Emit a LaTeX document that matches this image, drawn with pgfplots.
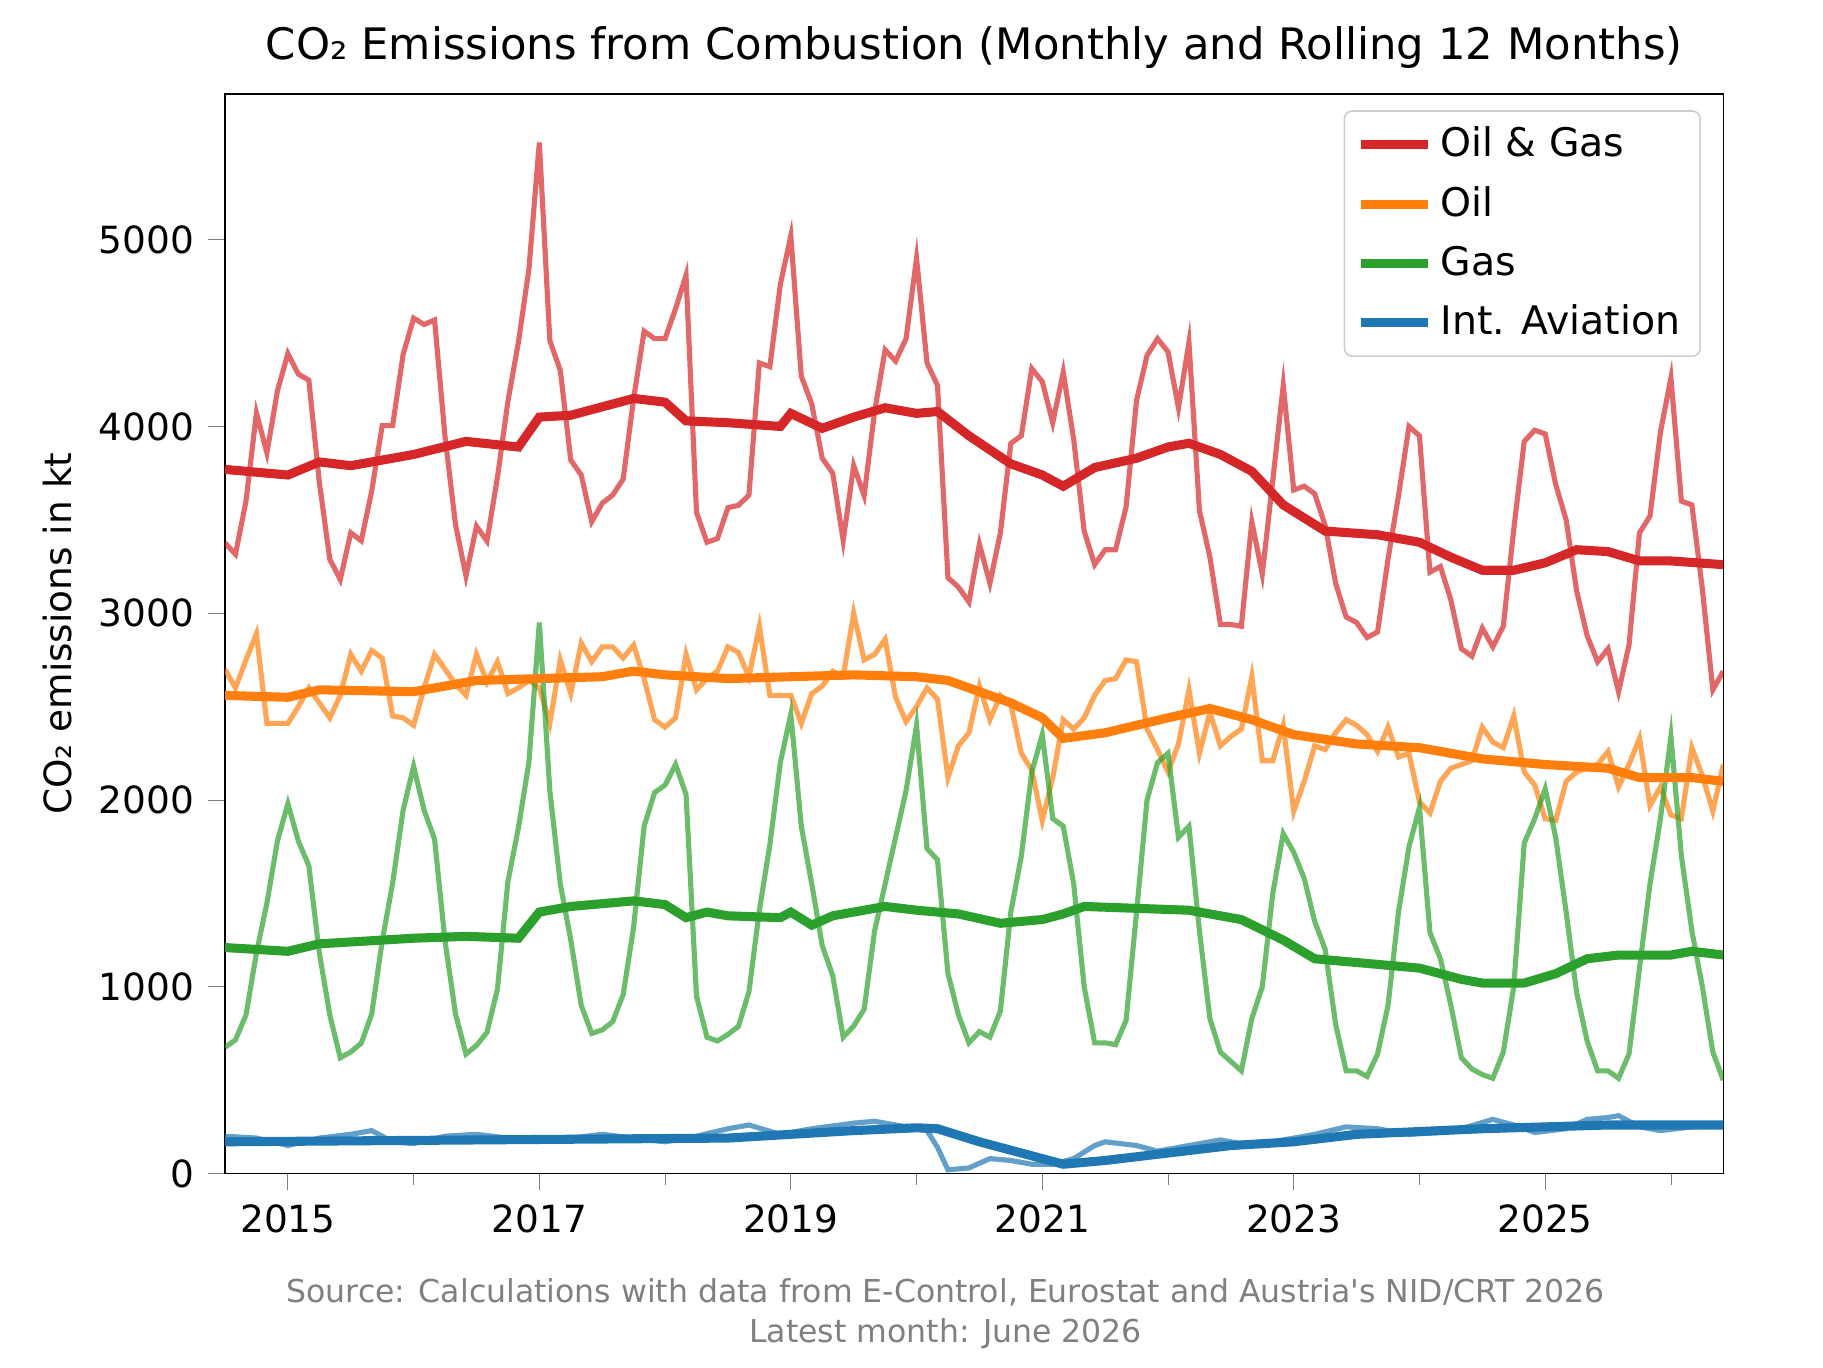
\documentclass[border=0pt]{standalone}
\usepackage{pgfplots}
\pgfplotsset{compat=1.18}
\usepackage{fontspec}
\setmainfont{DejaVu Sans}
\definecolor{tred}{HTML}{D62728}
\definecolor{torange}{HTML}{FF7F0E}
\definecolor{tgreen}{HTML}{2CA02C}
\definecolor{tblue}{HTML}{1F77B4}
\begin{document}
\begin{tikzpicture}
\path (-0.79in,-0.68in) rectangle (5.61in,4.12in);
\begin{axis}[scale only axis, width=5.26in, height=3.79in,
  at={(0,0)}, anchor=south west,
  xmin=0, xmax=143, ymin=0, ymax=5780,
  xtick={6,30,54,78,102,126}, xticklabels={2015,2017,2019,2021,2023,2025},
  minor xtick={18,42,66,90,114,138},
  ytick={0,1000,2000,3000,4000,5000},
  tick align=outside, tick pos=left,
  /pgf/number format/assume math mode=true,
  scaled y ticks=false, yticklabel style={/pgf/number format/1000 sep={}},
  ticklabel style={font=\fontsize{9.5}{11}\selectfont},
  ylabel={CO₂ emissions in kt}, ylabel style={font=\fontsize{9.5}{11}\selectfont},
  title={CO₂ Emissions from Combustion (Monthly and Rolling 12 Months)},
  title style={font=\fontsize{11}{13}\selectfont, yshift=-3pt},
  legend style={at={(0.985,0.985)}, anchor=north east, font=\fontsize{10}{12}\selectfont, draw=black!20, rounded corners=2pt, row sep=2pt},
  legend cell align=left,
  clip=true]
\addplot[tred, opacity=0.7, line width=1.3pt, forget plot] table[x expr=\coordindex, y index=0] {
v
3376
3316
3599
4072
3858
4190
4390
4280
4248
3702
3289
3180
3431
3388
3654
4004
4006
4386
4580
4546
4570
3944
3474
3200
3466
3386
3727
4134
4450
4840
5520
4460
4300
3820
3740
3490
3589
3633
3718
4150
4510
4470
4470
4630
4810
3540
3380
3400
3565
3578
3632
4340
4320
4760
5020
4270
4120
3830
3750
3390
3790
3630
4080
4410
4350
4470
4900
4340
4220
3190
3140
3060
3370
3160
3430
3910
3950
4310
4240
4020
4290
3930
3440
3260
3340
3340
3570
4140
4380
4470
4400
4100
4450
3550
3300
2940
2940
2930
3490
3210
3710
4220
3660
3680
3640
3470
3160
2980
2950
2870
2900
3290
3630
4000
3950
3220
3250
3070
2810
2770
2920
2820
2930
3450
3920
3980
3960
3690
3500
3120
2880
2740
2810
2580
2830
3430
3520
3970
4260
3600
3580
3130
2590
2690
};
\addplot[torange, opacity=0.7, line width=1.3pt, forget plot] table[x expr=\coordindex, y index=0] {
v
2700
2600
2750
2890
2410
2410
2410
2500
2600
2520
2440
2560
2780
2690
2800
2760
2450
2440
2400
2600
2780
2700
2620
2560
2780
2630
2740
2570
2600
2640
2600
2410
2750
2570
2840
2740
2820
2820
2760
2830
2650
2430
2390
2440
2780
2590
2650
2690
2820
2790
2660
2930
2560
2560
2560
2410
2570
2610
2690
2660
3000
2750
2780
2860
2550
2420
2500
2600
2540
2120
2290
2360
2610
2430
2560
2510
2250
2160
1890
2120
2430
2380
2440
2560
2640
2650
2750
2740
2380
2270
2150
2300
2590
2250
2470
2290
2340
2380
2660
2210
2210
2400
1940
2100
2290
2270
2360
2430
2400
2350
2260
2390
2230
2250
1990
1930
2100
2170
2190
2210
2390
2310
2280
2450
2150
2080
1900
1890
2100
2150
2170
2190
2260
2070
2190
2330
1970
2070
1920
1900
2280
2130
1940
2190
};
\addplot[tgreen, opacity=0.7, line width=1.3pt, forget plot] table[x expr=\coordindex, y index=0] {
v
676
716
849
1182
1448
1780
1980
1780
1648
1182
849
620
651
698
854
1244
1556
1946
2180
1946
1790
1244
854
640
686
756
987
1564
1850
2200
2950
2050
1550
1250
900
750
769
813
958
1320
1860
2040
2080
2190
2030
950
730
710
745
788
972
1410
1760
2200
2460
1860
1550
1220
1060
730
790
880
1300
1550
1800
2050
2400
1740
1680
1070
850
700
760
730
870
1400
1700
2150
2350
1900
1860
1550
1000
700
700
690
820
1400
2000
2200
2250
1800
1860
1300
830
650
600
550
830
1000
1500
1820
1720
1580
1350
1200
800
550
550
520
640
900
1400
1750
1960
1290
1150
900
620
560
530
510
650
1000
1770
1900
2060
1800
1400
970
710
550
550
510
640
1100
1550
1900
2340
1700
1300
1000
650
500
};
\addplot[tblue, opacity=0.7, line width=1.3pt, forget plot] coordinates {
(0,200)(3,190)(6,150)(9,190)(12,210)(14,230)(16,170)(18,160)(21,200)(24,210)(27,190)(30,180)(33,190)(36,210)(39,190)(42,170)(45,200)(48,240)(50,260)(53,210)(56,240)(60,270)(62,280)(64,260)(66,240)(67,230)(68,140)(69,20)(71,30)(73,80)(75,70)(77,50)(79,50)(81,80)(83,150)(84,170)(87,150)(89,120)(92,150)(95,180)(98,150)(101,180)(104,210)(107,250)(110,240)(113,210)(116,220)(118,240)(121,290)(123,260)(125,220)(128,240)(130,290)(132,300)(133,310)(135,250)(137,230)(140,250)(143,260)};
\addplot[tred, line width=2.3pt] coordinates {
(0,3770)(6,3740)(9,3810)(12,3790)(18,3850)(23,3920)(28,3890)(30,4050)(33,4060)(39,4150)(42,4130)(44,4030)(48,4020)(53,4000)(54,4070)(57,3990)(60,4050)(63,4100)(66,4070)(68,4080)(71,3950)(75,3800)(78,3740)(80,3680)(83,3780)(87,3830)(90,3890)(92,3910)(95,3850)(98,3760)(101,3580)(105,3440)(110,3420)(114,3380)(117,3300)(120,3230)(123,3230)(126,3270)(129,3340)(132,3330)(135,3280)(138,3280)(143,3260)};
\addlegendentry{Oil \& Gas}
\addplot[torange, line width=2.3pt] coordinates {
(0,2560)(6,2550)(9,2590)(18,2580)(24,2640)(30,2650)(36,2660)(39,2690)(42,2670)(48,2650)(54,2660)(60,2670)(66,2660)(69,2640)(75,2520)(78,2440)(80,2330)(84,2360)(90,2440)(94,2490)(98,2430)(102,2350)(108,2300)(114,2280)(120,2220)(126,2190)(132,2170)(135,2120)(140,2120)(143,2100)};
\addlegendentry{Oil}
\addplot[tgreen, line width=2.3pt] coordinates {
(0,1210)(6,1190)(9,1230)(18,1260)(23,1270)(28,1260)(30,1400)(33,1430)(39,1460)(42,1440)(44,1370)(46,1400)(48,1380)(53,1370)(54,1400)(56,1330)(58,1380)(63,1430)(66,1410)(70,1390)(74,1340)(78,1360)(80,1390)(82,1430)(87,1420)(92,1410)(97,1360)(101,1250)(104,1150)(110,1120)(114,1100)(118,1040)(120,1020)(124,1020)(127,1070)(130,1150)(133,1170)(138,1170)(140,1190)(143,1170)};
\addlegendentry{Gas}
\addplot[tblue, line width=2.3pt] coordinates {
(0,170)(24,180)(48,190)(60,230)(66,245)(68,240)(72,170)(76,110)(80,50)(84,70)(90,110)(96,150)(102,170)(108,210)(114,225)(120,240)(126,250)(132,260)(143,260)};
\addlegendentry{Int. Aviation}
\end{axis}
\node[anchor=north, text=gray, align=center, font=\fontsize{8}{10}\selectfont] at (2.53in,-0.32in) {Source: Calculations with data from E-Control, Eurostat and Austria\textquotesingle s NID/CRT 2026\\Latest month: June 2026};
\end{tikzpicture}
\end{document}
